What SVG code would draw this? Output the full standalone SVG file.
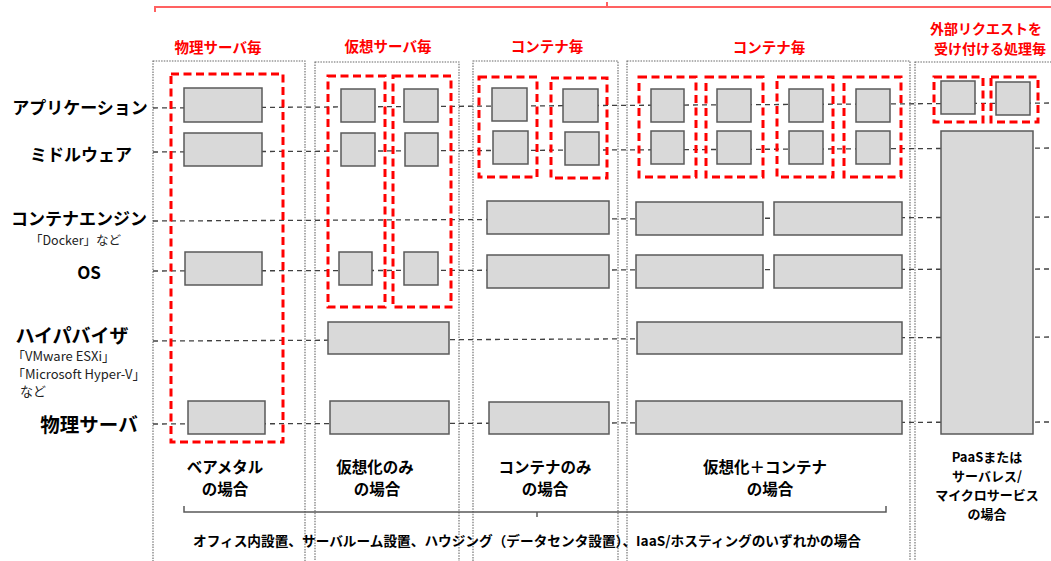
<svg xmlns="http://www.w3.org/2000/svg" width="1051" height="561" viewBox="0 0 1051 561">
<style>
.frame{fill:none;stroke:#666;stroke-width:1.1;stroke-dasharray:1.5 1.2}
.box{fill:#d9d9d9;stroke:#595959;stroke-width:1.5}
.grp{fill:none;stroke:#ff0000;stroke-width:3;stroke-dasharray:8 4.5}
.layer{fill:none;stroke:#404040;stroke-width:1.3;stroke-dasharray:5 4}
.jp{font-family:"Noto Sans CJK JP","Noto Sans",sans-serif;font-weight:bold;fill:#000}
.lbl{font-size:17px;text-anchor:middle}
.sub{font-family:"Noto Sans CJK JP","Noto Sans",sans-serif;font-size:13px;fill:#222}
.red{font-family:"Noto Sans CJK JP",sans-serif;font-weight:bold;font-size:14.5px;fill:#ff0000;text-anchor:middle}
.case{font-size:15.5px;text-anchor:middle}
</style>
<rect width="1051" height="561" fill="#fff"/>

<g id="frames">
<rect class="frame" x="153" y="61" width="152" height="560"/>
<rect class="frame" x="315" y="62" width="144" height="560"/>
<rect class="frame" x="473" y="61" width="145" height="560"/>
<rect class="frame" x="627" y="61" width="283" height="560"/>
<rect class="frame" x="915" y="62" width="160" height="560"/>
</g>

<g id="connectors">
<line class="layer" x1="153" y1="108" x2="1051" y2="103"/>
<line class="layer" x1="153" y1="152" x2="1051" y2="148"/>
<line class="layer" x1="153" y1="221" x2="1051" y2="217"/>
<line class="layer" x1="153" y1="271" x2="1051" y2="269"/>
<line class="layer" x1="153" y1="341" x2="1051" y2="337"/>
<line class="layer" x1="153" y1="424" x2="1051" y2="422"/>
</g>

<g id="top-brace"><path d="M155,12 V7 H1051 M607,7 V2" fill="none" stroke="#ff6161" stroke-width="2"/></g>

<g id="layer-labels">
<text class="jp lbl" x="80" y="114">アプリケーション</text>
<text class="jp lbl" x="81" y="161">ミドルウェア</text>
<text class="jp lbl" x="79" y="225">コンテナエンジン</text>
<text class="sub" x="30" y="245" style="font-size:12.5px">「Docker」など</text>
<text class="jp lbl" x="89" y="279">OS</text>
<text class="jp lbl" x="72" y="343" style="font-size:19px">ハイパバイザ</text>
<text class="sub" x="12" y="361">「VMware ESXi」</text>
<text class="sub" x="12" y="379">「Microsoft Hyper-V」</text>
<text class="sub" x="20" y="396">など</text>
<text class="jp lbl" x="89" y="432" style="font-size:19.5px">物理サーバ</text>
</g>

<g id="group-labels">
<text class="red" x="218" y="53">物理サーバ毎</text>
<text class="red" x="388" y="52">仮想サーバ毎</text>
<text class="red" x="547" y="52">コンテナ毎</text>
<text class="red" x="769" y="53">コンテナ毎</text>
<text class="red" x="986" y="34" style="font-size:14px">外部リクエストを</text>
<text class="red" x="990" y="54" style="font-size:14px">受け付ける処理毎</text>
</g>

<g id="baremetal">
<rect class="grp" x="171" y="74" width="112" height="368"/>
<g id="bm-app"><rect class="box" x="184" y="88" width="78" height="34"/></g>
<g id="bm-mid"><rect class="box" x="184" y="133" width="78" height="33"/></g>
<g id="bm-os"><rect class="box" x="185" y="252" width="77" height="33"/></g>
<g id="bm-phys"><rect class="box" x="188" y="401" width="77" height="33"/></g>
</g>

<g id="virtual">
<rect class="grp" x="328" y="76" width="57" height="231"/>
<rect class="grp" x="393" y="76" width="58" height="231"/>
<g id="v-appA"><rect class="box" x="341" y="89" width="34" height="33"/></g>
<g id="v-appB"><rect class="box" x="404" y="89" width="34" height="33"/></g>
<g id="v-midA"><rect class="box" x="341" y="133" width="34" height="33"/></g>
<g id="v-midB"><rect class="box" x="405" y="133" width="33" height="33"/></g>
<g id="v-osA"><rect class="box" x="339" y="252" width="33" height="33"/></g>
<g id="v-osB"><rect class="box" x="404" y="252" width="34" height="33"/></g>
<g id="v-hyp"><rect class="box" x="328" y="322" width="121" height="32"/></g>
<g id="v-phys"><rect class="box" x="330" y="401" width="119" height="33"/></g>
</g>

<g id="container">
<rect class="grp" x="479" y="77" width="58" height="100"/>
<rect class="grp" x="551" y="78" width="56" height="100"/>
<g id="c-appA"><rect class="box" x="492" y="88" width="35" height="33"/></g>
<g id="c-appB"><rect class="box" x="563" y="89" width="35" height="33"/></g>
<g id="c-midA"><rect class="box" x="493" y="131" width="35" height="33"/></g>
<g id="c-midB"><rect class="box" x="565" y="132" width="34" height="33"/></g>
<g id="c-ce"><rect class="box" x="487" y="201" width="122" height="33"/></g>
<g id="c-os"><rect class="box" x="487" y="255" width="122" height="33"/></g>
<g id="c-phys"><rect class="box" x="489" y="402" width="120" height="32"/></g>
</g>

<g id="virt-container">
<rect class="grp" x="639" y="77" width="57" height="100"/>
<rect class="grp" x="706" y="77" width="57" height="100"/>
<rect class="grp" x="777" y="77" width="56" height="100"/>
<rect class="grp" x="844" y="77" width="57" height="100"/>
<g id="vc-app1"><rect class="box" x="651" y="89" width="33" height="33"/></g>
<g id="vc-app2"><rect class="box" x="717" y="89" width="34" height="33"/></g>
<g id="vc-app3"><rect class="box" x="789" y="89" width="34" height="33"/></g>
<g id="vc-app4"><rect class="box" x="856" y="89" width="34" height="33"/></g>
<g id="vc-mid1"><rect class="box" x="651" y="131" width="33" height="33"/></g>
<g id="vc-mid2"><rect class="box" x="717" y="131" width="34" height="33"/></g>
<g id="vc-mid3"><rect class="box" x="789" y="131" width="34" height="33"/></g>
<g id="vc-mid4"><rect class="box" x="856" y="131" width="34" height="33"/></g>
<g id="vc-ce1"><rect class="box" x="636" y="202" width="127" height="33"/></g>
<g id="vc-ce2"><rect class="box" x="774" y="202" width="128" height="33"/></g>
<g id="vc-os1"><rect class="box" x="636" y="255" width="127" height="33"/></g>
<g id="vc-os2"><rect class="box" x="774" y="255" width="128" height="33"/></g>
<g id="vc-hyp"><rect class="box" x="637" y="322" width="265" height="32"/></g>
<g id="vc-phys"><rect class="box" x="636" y="401" width="266" height="33"/></g>
</g>

<g id="paas">
<rect class="grp" x="934" y="77" width="49" height="45"/>
<rect class="grp" x="991" y="77" width="47" height="45"/>
<g id="p-appA"><rect class="box" x="941" y="81" width="34" height="33"/></g>
<g id="p-appB"><rect class="box" x="996" y="82" width="34" height="33"/></g>
<g id="p-platform"><rect class="box" x="941" y="131" width="92" height="303"/></g>
</g>

<g id="case-labels">
<text class="jp case" x="225" y="473">ベアメタル</text>
<text class="jp case" x="225" y="495">の場合</text>
<text class="jp case" x="375" y="473">仮想化のみ</text>
<text class="jp case" x="377" y="495">の場合</text>
<text class="jp case" x="545" y="473">コンテナのみ</text>
<text class="jp case" x="545" y="495">の場合</text>
<text class="jp case" x="765" y="473">仮想化＋コンテナ</text>
<text class="jp case" x="770" y="495">の場合</text>
<text class="jp" font-size="13" text-anchor="middle" x="987" y="462">PaaSまたは</text>
<text class="jp" font-size="13" text-anchor="middle" x="987" y="481">サーバレス/</text>
<text class="jp" font-size="13" text-anchor="middle" x="987" y="500">マイクロサービス</text>
<text class="jp" font-size="13" text-anchor="middle" x="987" y="519">の場合</text>
</g>

<g id="bottom-brace"><path d="M184,506 V512 H886 V506 M537,512 V517" fill="none" stroke="#595959" stroke-width="1.5"/></g>
<g id="bottom-label">
<text class="jp" font-size="13.5" x="193" y="546" textLength="668" lengthAdjust="spacingAndGlyphs">オフィス内設置、サーバルーム設置、ハウジング（データセンタ設置）、IaaS/ホスティングのいずれかの場合</text>
</g>
</svg>
